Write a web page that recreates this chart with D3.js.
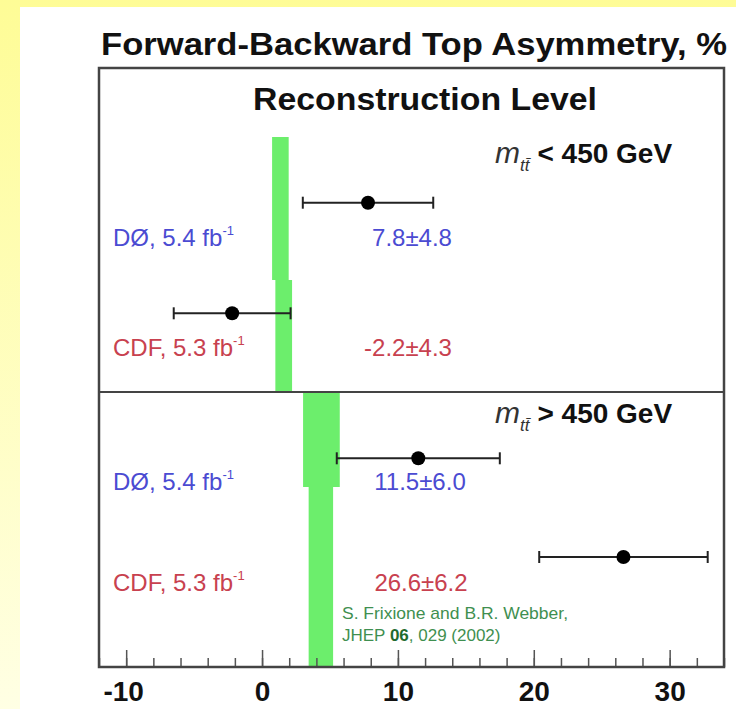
<!DOCTYPE html>
<html>
<head>
<meta charset="utf-8">
<script src="https://cdn.jsdelivr.net/npm/d3@7"></script>
<style>
  body { margin: 0; background: #fff; }
  svg { display: block; font-family: "Liberation Sans", Arial, Helvetica, sans-serif; }
</style>
</head>
<body>
<div id="chart"></div>
<script>
// values
var experiments = ["DØ", "CDF"];
var luminosity = ["5.4", "5.3"];
var massBins = ["<", ">"];
var afbValues = [[7.8, -2.2], [11.5, 26.6]];
var afbErrors = [[4.8, 4.3], [6.0, 6.2]];
// MC@NLO band, two pieces per panel (upper row, lower row)
var theoryLow = [[0.74, 0.98], [3.02, 3.43]];
var theoryHigh = [[1.96, 2.21], [5.72, 5.23]];
var majorTicks = [-10, 0, 10, 20, 30];
var minorTicks = d3.range(-12, 35, 2);

var width = 736, height = 709;
var frame = {left: 99, right: 724, top: 68, bottom: 667, split: 392};

var expColor = ["#4b4bd2", "#c8414f"];

var svg = d3.select("#chart").append("svg")
  .attr("width", width)
  .attr("height", height);

//yellow slide background
var defs = svg.append("defs");
var bg = defs.append("linearGradient").attr("id", "bgGrad")
  .attr("x1", 0).attr("y1", 0).attr("x2", 0).attr("y2", 1);
bg.append("stop").attr("offset", "0%").attr("stop-color", "#fefc96");
bg.append("stop").attr("offset", "100%").attr("stop-color", "#ffffe4");
svg.append("rect").attr("width", width).attr("height", height).attr("fill", "url(#bgGrad)");
svg.append("rect").attr("x", 20).attr("y", 7).attr("width", width - 20).attr("height", height - 7).attr("fill", "#fff");

var x = d3.scaleLinear().domain([-12, 34]).range([frame.left, frame.right]);

// vertical layout of each panel: row centres and band pieces
var rowY = [[202.7, 313.3], [458.3, 557]];
var bandY = [[137, 280, frame.split], [frame.split, 487, frame.bottom]];
var labelDy = [[35, 35], [24, 26]];
var valueX = [[412, 408], [420, 421]];
var massY = [163, 423];

// theory band
for (var p = 0; p < 2; p++) {
  for (var r = 0; r < 2; r++) {
    svg.append("rect")
      .attr("x", x(theoryLow[p][r]))
      .attr("width", x(theoryHigh[p][r]) - x(theoryLow[p][r]))
      .attr("y", bandY[p][r])
      .attr("height", bandY[p][r + 1] - bandY[p][r])
      .attr("fill", "#6cee6c");
  }
}

// titles
svg.append("text")
  .attr("x", 414).attr("y", 55)
  .attr("text-anchor", "middle")
  .attr("font-size", 32).attr("font-weight", "bold").attr("fill", "#111")
  .attr("textLength", 626).attr("lengthAdjust", "spacingAndGlyphs")
  .text("Forward-Backward Top Asymmetry, %");

svg.append("text")
  .attr("x", 425).attr("y", 110)
  .attr("text-anchor", "middle")
  .attr("font-size", 31).attr("font-weight", "bold").attr("fill", "#111")
  .attr("textLength", 344).attr("lengthAdjust", "spacingAndGlyphs")
  .text("Reconstruction Level");

// mass bin labels
massBins.forEach(function(sign, p) {
  var t = svg.append("text")
    .attr("x", 495).attr("y", massY[p])
    .attr("fill", "#111");
  t.append("tspan").attr("font-size", 30).attr("font-style", "italic").attr("fill", "#333").text("m");
  t.append("tspan").attr("font-size", 17).attr("font-style", "italic").attr("fill", "#333")
    .attr("dy", 8).text("t" + "t\u0304");
  t.append("tspan").attr("font-size", 28).attr("font-weight", "bold")
    .attr("dy", -8).attr("dx", 8).text(sign + " 450 GeV");
});

// experiment labels and value labels
afbValues.forEach(function(vals, p) {
  vals.forEach(function(v, r) {
    var ty = rowY[p][r] + labelDy[p][r] + 8;
    var lab = svg.append("text")
      .attr("x", 113).attr("y", ty)
      .attr("font-size", 24).attr("fill", expColor[r]);
    lab.append("tspan").text(experiments[r] + ", " + luminosity[r] + " fb");
    lab.append("tspan").attr("font-size", 13).attr("dy", -11).text("-1");

    svg.append("text")
      .attr("x", valueX[p][r]).attr("y", ty)
      .attr("text-anchor", "middle")
      .attr("font-size", 24).attr("fill", expColor[r])
      .text(v.toFixed(1) + "±" + afbErrors[p][r].toFixed(1));
  });
});

// reference note
var ref = svg.append("g").attr("fill", "#3f8f50").attr("font-size", 17);
ref.append("text").attr("x", 342).attr("y", 619)
  .attr("textLength", 226).attr("lengthAdjust", "spacingAndGlyphs")
  .text("S. Frixione and B.R. Webber,");
var jhep = ref.append("text").attr("x", 342).attr("y", 641);
jhep.append("tspan").text("JHEP ");
jhep.append("tspan").attr("font-weight", "bold").attr("fill", "#1f6b2f").text("06");
jhep.append("tspan").text(", 029 (2002)");

// measurements with error bars
afbValues.forEach(function(vals, p) {
  vals.forEach(function(v, r) {
    var e = afbErrors[p][r], y = rowY[p][r];
    var g = svg.append("g").attr("stroke", "#222").attr("stroke-width", 2);
    g.append("line").attr("x1", x(v - e)).attr("x2", x(v + e)).attr("y1", y).attr("y2", y);
    g.append("line").attr("x1", x(v - e)).attr("x2", x(v - e)).attr("y1", y - 6).attr("y2", y + 6);
    g.append("line").attr("x1", x(v + e)).attr("x2", x(v + e)).attr("y1", y - 6).attr("y2", y + 6);
    svg.append("circle").attr("cx", x(v)).attr("cy", y).attr("r", 7).attr("fill", "#000");
  });
});

// axis: minor ticks then major ticks with labels
svg.append("g")
  .attr("transform", "translate(0," + frame.bottom + ")")
  .call(d3.axisBottom(x).tickValues(minorTicks).tickSize(-9).tickFormat(""))
  .call(function(g) {
    g.select(".domain").remove();
    g.selectAll("line").attr("stroke", "#555").attr("stroke-width", 1.5);
  });

svg.append("g")
  .attr("transform", "translate(0," + frame.bottom + ")")
  .call(d3.axisBottom(x).tickValues(majorTicks).tickSize(-17).tickPadding(14)
    .tickFormat(function(d) { return String(d); }))
  .call(function(g) {
    g.select(".domain").remove();
    g.selectAll("line").attr("stroke", "#555").attr("stroke-width", 1.5);
    g.selectAll("text")
      .attr("font-family", "'Liberation Sans', Arial, sans-serif")
      .attr("font-size", 28).attr("font-weight", "bold").attr("fill", "#111")
      .attr("dx", function(d) { return d < 0 ? -3 : 0; });
  });

// frame and panel divider
svg.append("rect")
  .attr("x", frame.left).attr("y", frame.top)
  .attr("width", frame.right - frame.left).attr("height", frame.bottom - frame.top)
  .attr("fill", "none").attr("stroke", "#444").attr("stroke-width", 2.5);
svg.append("line")
  .attr("x1", frame.left).attr("x2", frame.right)
  .attr("y1", frame.split).attr("y2", frame.split)
  .attr("stroke", "#444").attr("stroke-width", 2);
</script>
</body>
</html>
